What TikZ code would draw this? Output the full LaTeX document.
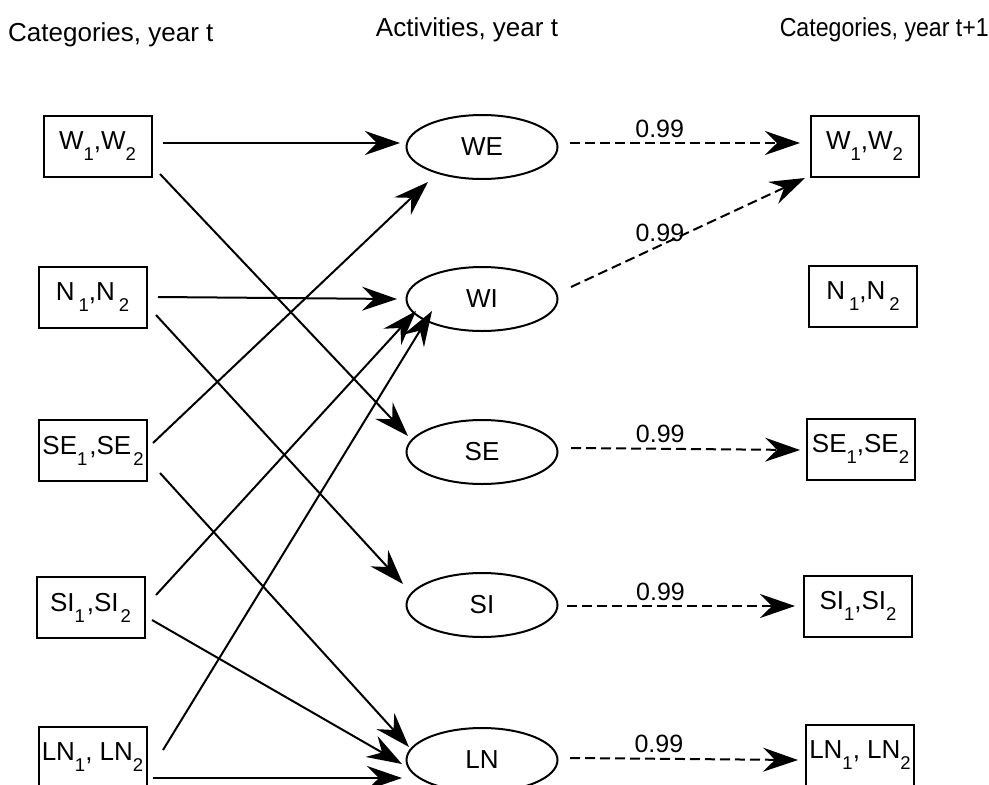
\documentclass[tikz,border=0pt]{standalone}
\usepackage{fontspec}
\setmainfont{Liberation Sans}
\usetikzlibrary{arrows.meta,shapes.geometric,calc}
\newcommand{\sbx}[1]{\raisebox{-11pt}{\fontsize{18.5}{18}\selectfont #1}}
\begin{document}
\begin{tikzpicture}[x=1pt,y=-1pt,
  every node/.style={font=\fontsize{26}{30}\selectfont},
  cat/.style={draw, line width=2pt, rectangle, minimum width=108pt, minimum height=61pt, inner sep=0pt},
  act/.style={draw, line width=2pt, ellipse, minimum width=151pt, minimum height=64pt, inner sep=0pt},
  arr/.style={line width=2pt, -{Stealth[length=35pt,width=24pt,inset=12pt]}},
  darr/.style={arr, dash pattern=on 10pt off 5pt},
  lbl/.style={inner sep=0pt, anchor=base, font=\fontsize{25}{30}\selectfont},
  hdr/.style={font=\fontsize{26}{30}\selectfont, inner sep=0pt}]
\useasboundingbox (0,0) rectangle (989,785);
\clip (0,0) rectangle (989,785);

% headers
\node[hdr, anchor=base west] (h1) at (8,41) {Categories, year t};
\node[hdr, anchor=base] (h2) at (467,36) {Activities, year t};
\node[hdr, anchor=base east] (h3) at (989,36) {\scalebox{0.89}[1]{Categories, year t+1}};

% left categories
\node[cat] (lW)  at (97.5,146.5) {W\sbx{1},W\sbx{2}};
\node[cat] (lN)  at (92.5,297)   {N\kern4pt\sbx{1},N\kern4pt\sbx{2}};
\node[cat] (lSE) at (93,450.5)   {SE\sbx{1}\kern2pt,SE\kern2pt\sbx{2}};
\node[cat] (lSI) at (90.5,607.5) {SI\sbx{1}\kern2pt,SI\kern2pt\sbx{2}};
\node[cat] (lLN) at (92.5,757.5) {LN\sbx{1}, LN\sbx{2}};

% activities
\node[act] (aWE) at (482,147) {WE};
\node[act] (aWI) at (482,299) {WI};
\node[act] (aSE) at (482,452) {SE};
\node[act] (aSI) at (482,605) {SI};
\node[act] (aLN) at (482,760) {LN};

% right categories
\node[cat] (rW)  at (864.5,146) {W\sbx{1},W\sbx{2}};
\node[cat] (rN)  at (863,296.5) {N\kern4pt\sbx{1},N\kern4pt\sbx{2}};
\node[cat] (rSE) at (860.5,449) {SE\sbx{1},SE\sbx{2}};
\node[cat] (rSI) at (858,606)   {SI\sbx{1},SI\sbx{2}};
\node[cat] (rLN) at (860,755.5) {LN\sbx{1}, LN\sbx{2}};

% solid arrows
\draw[arr] ($(lW)+(65.5,-3.5)$)   -- ($(aWE)+(-82,-4)$);
\draw[arr] ($(lW)+(62.5,27.5)$)   -- ($(aSE)+(-74,-16)$);
\draw[arr] ($(lN)+(65.5,0)$)      -- ($(aWI)+(-85,0)$);
\draw[arr] ($(lN)+(63.5,18)$)     -- ($(aSI)+(-79,-21)$);
\draw[arr] ($(lSE)+(60,-7.5)$)    -- ($(aWE)+(-54,35)$);
\draw[arr] ($(lSE)+(67,22.5)$)    -- ($(aLN)+(-73,-13)$);
\draw[arr] ($(lSI)+(65.5,-12.5)$) -- ($(aWI)+(-66,12)$);
\draw[arr] ($(lSI)+(61.5,12.5)$)  -- ($(aLN)+(-80,4)$);
\draw[arr] ($(lLN)+(70.5,-7.5)$)  -- ($(aWI)+(-50,12)$);
\draw[arr] ($(lLN)+(60.5,20.5)$)  -- ($(aLN)+(-80,18)$);

% dashed arrows
\draw[darr] ($(aWE)+(88,-4)$) -- node[lbl, pos=0.39, yshift=6pt] (t1) {0.99} ($(rW)+(-64.5,-3)$);
\draw[darr] ($(aWI)+(89,-12)$) -- node[lbl, pos=0.38, yshift=4pt] (t2) {0.99} ($(rW)+(-59.5,32)$);
\draw[darr] ($(aSE)+(89,-4)$) -- node[lbl, pos=0.39, yshift=6pt] (t3) {0.99} ($(rSE)+(-60.5,1)$);
\draw[darr] ($(aSI)+(85,1)$) -- node[lbl, pos=0.41, yshift=6pt] (t4) {0.99} ($(rSI)+(-63,0)$);
\draw[darr] ($(aLN)+(88,-2)$) -- node[lbl, pos=0.39, yshift=6pt] (t5) {0.99} ($(rLN)+(-62,4.5)$);
\end{tikzpicture}
\end{document}
